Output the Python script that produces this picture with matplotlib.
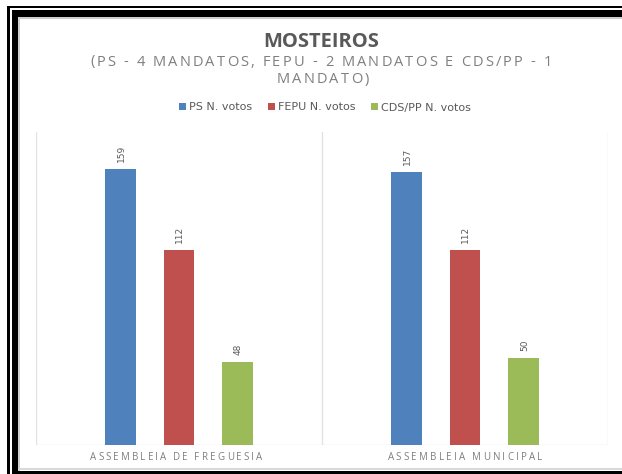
import matplotlib
matplotlib.use("Agg")
import matplotlib.pyplot as plt
from matplotlib.patches import Rectangle
from matplotlib import font_manager as fm
import numpy as np

categories = ["ASSEMBLEIA DE FREGUESIA", "ASSEMBLEIA MUNICIPAL"]
series = ["PS N. votos", "FEPU N. votos", "CDS/PP N. votos"]
ps_votes = [159, 157]
fepu_votes = [112, 112]
cds_votes = [48, 50]
colors = ["#4F81BD", "#C0504D", "#9BBB59"]

title = "MOSTEIROS"
subtitle1 = "(PS - 4 MANDATOS, FEPU - 2 MANDATOS E CDS/PP - 1"
subtitle2 = "MANDATO)"

W, H = 622, 474
fig = plt.figure(figsize=(W / 100, H / 100), dpi=100)
fig.patch.set_facecolor("white")


def font_ok(name):
    try:
        fm.findfont(name, fallback_to_default=False)
        return True
    except Exception:
        return False


narrow = "Liberation Sans Narrow" if font_ok("Liberation Sans Narrow") else "DejaVu Sans"
main_font = "Open Sans" if font_ok("Open Sans") else "DejaVu Sans"


def px_rect(x0, y0, x1, y1, color):
    # pixel box (top-left origin) -> figure rectangle
    fig.add_artist(Rectangle((x0 / W, 1 - y1 / H), (x1 - x0) / W, (y1 - y0) / H,
                             transform=fig.transFigure, facecolor=color,
                             edgecolor="none", zorder=0))


# frame around the chart (right side cut off in original)
px_rect(7, 6, W, 8, "black")
px_rect(7, 6, 10, H, "black")
px_rect(12, 10, W, 17, "black")
px_rect(12, 10, 18, H, "black")
px_rect(18, 17, W, 19, "#cfcfcf")
px_rect(18, 17, 20, 471, "#cfcfcf")
px_rect(12, 471, W, H, "black")
px_rect(18, 468, W, 470, "#d9d9d9")

renderer = fig.canvas.get_renderer()


def char_width(ch, prop):
    w1, _, _ = renderer.get_text_width_height_descent("|" + ch + "|", prop, ismath=False)
    w0, _, _ = renderer.get_text_width_height_descent("||", prop, ismath=False)
    return w1 - w0


def spaced_text(s, xc, yc, prop, color, width=None, spacing=None):
    widths = [char_width(c, prop) for c in s]
    if spacing is None:
        spacing = (width - sum(widths)) / (len(s) - 1)
    total = sum(widths) + spacing * (len(s) - 1)
    x = xc - total / 2
    for c, w in zip(s, widths):
        if c != " ":
            fig.text(x / W, 1 - yc / H, c, fontproperties=prop, color=color,
                     ha="left", va="center")
        x += w + spacing
    return spacing


# title and subtitle
fig.text(321 / W, 1 - 42 / H, title, family=main_font, fontweight="bold",
         fontsize=14.5, color="#595959", ha="center", va="center")
sub_prop = fm.FontProperties(family=main_font, size=10.5)
sp = spaced_text(subtitle1, 321, 62, sub_prop, "#7f7f7f", width=462)
spaced_text(subtitle2, 323, 80, sub_prop, "#7f7f7f", spacing=sp)

# axes
ax = fig.add_axes([36 / W, 1 - 445 / H, (608 - 36) / W, (445 - 132) / H])
x = np.arange(len(categories))
bw = 0.108
off = 0.205
b1 = ax.bar(x - off, ps_votes, bw, color=colors[0], label=series[0], zorder=3)
b2 = ax.bar(x, fepu_votes, bw, color=colors[1], label=series[1], zorder=3)
b3 = ax.bar(x + off, cds_votes, bw, color=colors[2], label=series[2], zorder=3)

for bars in (b1, b2, b3):
    for b in bars:
        ax.annotate(str(int(b.get_height())),
                    (b.get_x() + b.get_width() / 2, b.get_height()),
                    xytext=(0.5, 5), textcoords="offset points",
                    rotation=90, ha="center", va="bottom",
                    fontsize=6.5, color="#595959", family=narrow)

ax.set_xlim(-0.5, len(categories) - 0.5)
ax.set_ylim(0, 180)
for s in ax.spines.values():
    s.set_visible(False)
ax.set_xticks([])
ax.set_yticks([])
for xv in np.arange(-0.5, len(categories), 1.0):
    ax.axvline(xv, color="#e3e3e3", lw=1, zorder=1)
ax.axhline(0, color="#e3e3e3", lw=1, zorder=1)

# category labels
cat_prop = fm.FontProperties(family=main_font, size=7)
spaced_text(categories[0], 176, 457, cat_prop, "#7f7f7f", width=172)
spaced_text(categories[1], 465, 457, cat_prop, "#7f7f7f", width=155)

fig.legend(handles=[b1, b2, b3], labels=series, loc="center",
           bbox_to_anchor=(325 / W, 1 - 107.5 / H), ncol=3, frameon=False,
           prop=fm.FontProperties(family=narrow, size=8),
           handlelength=0.6, handleheight=0.6, handletextpad=0.3,
           columnspacing=1.4, labelcolor="#595959")

fig.savefig("out.png", dpi=100, facecolor="white")
